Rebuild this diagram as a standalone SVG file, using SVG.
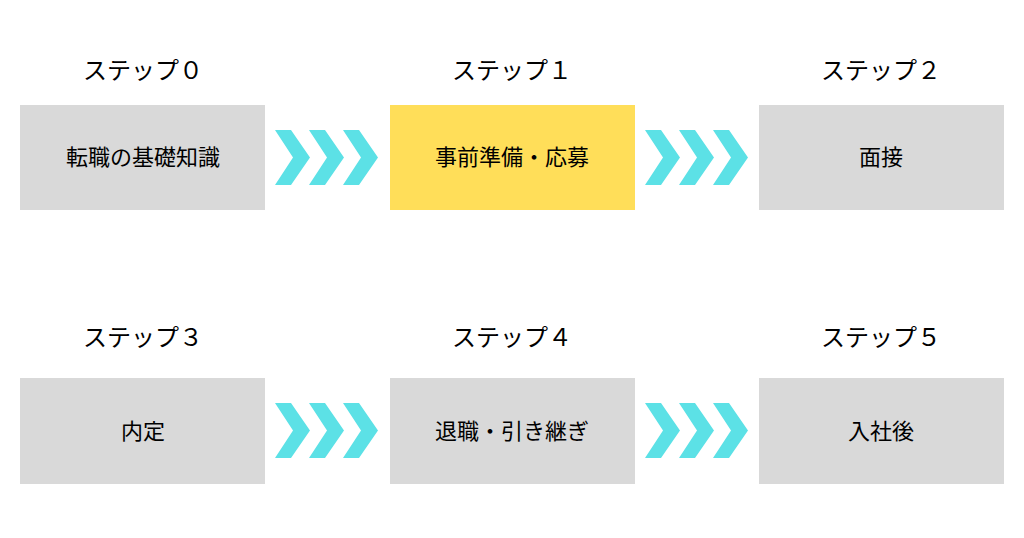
<svg xmlns="http://www.w3.org/2000/svg" width="1024" height="538" viewBox="0 0 1024 538">
<style>
.box{fill:#d9d9d9}
.hl{fill:#ffde59}
.t{font-family:"Noto Sans CJK JP","Noto Sans",sans-serif;font-size:22px;fill:#000;text-anchor:middle}
.h{font-family:"Noto Sans CJK JP","Noto Sans",sans-serif;font-size:24px;fill:#000;text-anchor:middle}
.ch{fill:#5ce1e6}
</style>
<defs>
<g id="chev"><polygon class="ch" points="0,0 16,0 35,27.5 16,55 0,55 18,27.5"/><polygon class="ch" points="34,0 50,0 69,27.5 50,55 34,55 52,27.5"/><polygon class="ch" points="68,0 84,0 103,27.5 84,55 68,55 86,27.5"/></g>
</defs>
<rect width="1024" height="538" fill="#fff"/>
<g id="connectors">
<use href="#chev" x="275" y="130"/>
<use href="#chev" x="645" y="130"/>
<use href="#chev" x="275" y="403"/>
<use href="#chev" x="645" y="403"/>
</g>
<g id="step0"><text class="h" x="143" y="79">ステップ０</text><rect class="box" x="20" y="105" width="245" height="105"/><text class="t" x="143" y="165">転職の基礎知識</text></g>
<g id="step1"><text class="h" x="512" y="79">ステップ１</text><rect class="hl" x="390" y="105" width="245" height="105"/><text class="t" x="512" y="165">事前準備・応募</text></g>
<g id="step2"><text class="h" x="881" y="79">ステップ２</text><rect class="box" x="759" y="105" width="245" height="105"/><text class="t" x="881" y="165">面接</text></g>
<g id="step3"><text class="h" x="143" y="346">ステップ３</text><rect class="box" x="20" y="378" width="245" height="106"/><text class="t" x="143" y="439">内定</text></g>
<g id="step4"><text class="h" x="512" y="346">ステップ４</text><rect class="box" x="390" y="378" width="245" height="106"/><text class="t" x="512" y="439">退職・引き継ぎ</text></g>
<g id="step5"><text class="h" x="881" y="346">ステップ５</text><rect class="box" x="759" y="378" width="245" height="106"/><text class="t" x="881" y="439">入社後</text></g>
</svg>
